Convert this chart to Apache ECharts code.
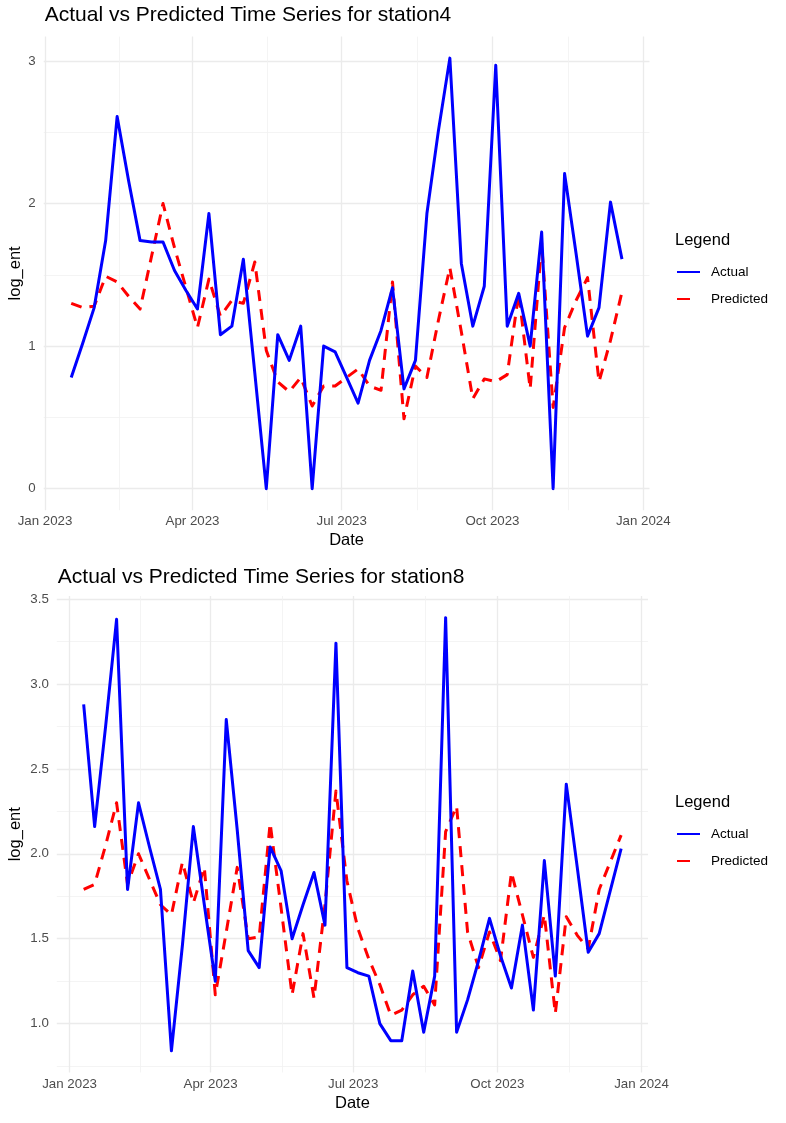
<!DOCTYPE html>
<html>
<head>
<meta charset="utf-8">
<script src="https://cdn.jsdelivr.net/npm/echarts@6/dist/echarts.min.js"></script>
<style>
html, body { margin: 0; padding: 0; background: #fff; }
#main { width: 786px; height: 1123px; }
</style>
</head>
<body>
<div id="main"></div>
<script>
// weekly observation dates (station8 has all of them, station4 starts one week later)
const dates = [
  '2023-01-10','2023-01-17','2023-01-24','2023-01-31','2023-02-07','2023-02-14','2023-02-21','2023-02-28',
  '2023-03-07','2023-03-14','2023-03-21','2023-03-28','2023-04-04','2023-04-11','2023-04-18','2023-04-25',
  '2023-05-02','2023-05-09','2023-05-16','2023-05-23','2023-05-30','2023-06-06','2023-06-13','2023-06-20',
  '2023-06-27','2023-07-04','2023-07-11','2023-07-18','2023-07-25','2023-08-01','2023-08-08','2023-08-15',
  '2023-08-22','2023-08-29','2023-09-05','2023-09-12','2023-09-19','2023-09-26','2023-10-03','2023-10-10',
  '2023-10-17','2023-10-24','2023-10-31','2023-11-07','2023-11-14','2023-11-21','2023-11-28','2023-12-05',
  '2023-12-12','2023-12-19'
];
const dates4 = dates.slice(1);

const actual4 = [0.78,1.02,1.27,1.74,2.61,2.16,1.74,1.73,1.73,1.53,1.39,1.26,1.93,1.08,1.14,1.61,0.81,0,1.08,0.90,
  1.14,0,1.00,0.96,0.78,0.60,0.90,1.11,1.41,0.70,0.90,1.93,2.51,3.02,1.58,1.14,1.42,2.97,1.14,1.37,
  1.00,1.80,0,2.21,1.65,1.07,1.27,2.01,1.61];
const predicted4 = [1.30,1.27,1.28,1.49,1.45,1.35,1.26,1.63,2.00,1.69,1.41,1.13,1.47,1.21,1.32,1.30,1.59,0.97,0.75,0.68,
  0.78,0.58,0.72,0.72,0.78,0.84,0.72,0.69,1.45,0.49,0.86,0.78,1.18,1.55,1.10,0.63,0.77,0.75,0.80,1.37,
  0.70,1.72,0.57,1.13,1.32,1.48,0.75,1.04,1.38];

const actual8 = [2.88,2.16,2.75,3.38,1.79,2.30,2.04,1.79,0.84,1.46,2.16,1.70,1.25,2.79,2.14,1.43,1.33,2.04,1.90,1.50,
  1.70,1.89,1.58,3.24,1.33,1.30,1.28,1.00,0.90,0.90,1.31,0.95,1.28,3.39,0.95,1.14,1.37,1.62,1.40,1.21,
  1.58,1.08,1.96,1.28,2.41,1.92,1.42,1.53,1.78,2.03];
const predicted8 = [1.79,1.82,2.05,2.30,1.82,2.00,1.85,1.70,1.64,1.95,1.71,1.92,1.17,1.54,1.92,1.50,1.51,2.18,1.68,1.17,
  1.53,1.15,1.70,2.37,1.84,1.56,1.38,1.23,1.05,1.08,1.17,1.22,1.11,2.13,2.28,1.54,1.33,1.54,1.37,1.89,
  1.64,1.39,1.64,1.06,1.63,1.52,1.44,1.79,1.95,2.11];

const xBreaks = ['2023-01-01','2023-04-01','2023-07-01','2023-10-01','2024-01-01'];
const yBreaks4 = [0, 1, 2, 3];
const yBreaks8 = [1.0, 1.5, 2.0, 2.5, 3.0, 3.5];

const FONT = 'Liberation Sans, Arial, sans-serif';
const MONTHS = ['Jan','Feb','Mar','Apr','May','Jun','Jul','Aug','Sep','Oct','Nov','Dec'];
const ts = s => Date.parse(s + 'T00:00:00Z');

function minorOf(breaks) {
  const out = [];
  const step = breaks[1] - breaks[0];
  out.push(breaks[0] - step / 2);
  for (let i = 0; i < breaks.length - 1; i++) out.push((breaks[i] + breaks[i + 1]) / 2);
  out.push(breaks[breaks.length - 1] + step / 2);
  return out;
}

function panel(i, p) {
  const xs = p.dates.map(ts);
  const xr = xs[xs.length - 1] - xs[0];
  const xMin = xs[0] - 0.05 * xr, xMax = xs[xs.length - 1] + 0.05 * xr;
  const all = p.actual.concat(p.predicted);
  const lo = Math.min(...all), hi = Math.max(...all);
  const yMin = lo - 0.05 * (hi - lo), yMax = hi + 0.05 * (hi - lo);
  const xMajor = xBreaks.map(ts);
  const xMinor = [];
  for (let k = 0; k < xMajor.length - 1; k++) xMinor.push((xMajor[k] + xMajor[k + 1]) / 2);
  const yMinor = minorOf(p.yBreaks).filter(v => v > yMin && v < yMax);

  const grid = { left: p.left, top: p.top, width: p.width, height: p.height, outerBoundsMode: 'none' };
  const gridLine = { show: true, lineStyle: { color: '#EBEBEB', width: 1.3 } };
  const minorLine = { show: true, lineStyle: { color: '#F1F1F1', width: 0.8 } };
  const xAxes = [
    {
      type: 'value', gridIndex: i, min: xMin, max: xMax, scale: true,
      axisLine: { show: false },
      axisTick: { show: false, customValues: xMajor },
      axisLabel: {
        customValues: xMajor, color: '#4D4D4D', fontSize: 13.3, fontFamily: FONT, margin: 5,
        formatter: v => { const d = new Date(v); return MONTHS[d.getUTCMonth()] + ' ' + d.getUTCFullYear(); }
      },
      splitLine: gridLine,
      name: 'Date', nameLocation: 'middle', nameGap: 22, nameMoveOverlap: false,
      nameTextStyle: { color: '#000', fontSize: 16.5, fontFamily: FONT }
    },
    {
      type: 'value', gridIndex: i, min: xMin, max: xMax, scale: true, position: 'top',
      axisLine: { show: false },
      axisTick: { show: false, customValues: xMinor },
      axisLabel: { show: false },
      splitLine: minorLine
    }
  ];
  const yAxes = [
    {
      type: 'value', gridIndex: i, min: yMin, max: yMax,
      axisLine: { show: false },
      axisTick: { show: false, customValues: p.yBreaks },
      axisLabel: {
        customValues: p.yBreaks, color: '#4D4D4D', fontSize: 13.3, fontFamily: FONT, margin: 8,
        formatter: v => v.toFixed(p.digits)
      },
      splitLine: gridLine,
      name: 'log_ent', nameLocation: 'middle', nameGap: p.nameGap, nameRotate: 90, nameMoveOverlap: false,
      nameTextStyle: { color: '#000', fontSize: 16.5, fontFamily: FONT }
    },
    {
      type: 'value', gridIndex: i, min: yMin, max: yMax, position: 'right',
      axisLine: { show: false },
      axisTick: { show: false, customValues: yMinor },
      axisLabel: { show: false },
      splitLine: minorLine
    }
  ];
  const series = [
    {
      name: 'Actual', type: 'line', xAxisIndex: 2 * i, yAxisIndex: 2 * i,
      data: xs.map((x, k) => [x, p.actual[k]]),
      symbol: 'none', color: '#0000FF',
      lineStyle: { color: '#0000FF', width: 3, join: 'round' }, z: 3
    },
    {
      name: 'Predicted', type: 'line', xAxisIndex: 2 * i, yAxisIndex: 2 * i,
      data: xs.map((x, k) => [x, p.predicted[k]]),
      symbol: 'none', color: '#FF0000',
      lineStyle: { color: '#FF0000', width: 3, type: [11, 8], join: 'round' }, z: 2
    }
  ];
  const titles = [
    { text: p.title, left: p.left + 1, top: p.titleTop, padding: 0,
      textStyle: { color: '#000', fontSize: 21, fontWeight: 'normal', fontFamily: FONT } },
    { text: 'Legend', left: 675, top: p.legendTop - 33, padding: 0,
      textStyle: { color: '#000', fontSize: 16.5, fontWeight: 'normal', fontFamily: FONT } }
  ];
  const legend = {
    data: ['Actual', { name: 'Predicted', lineStyle: { type: [13, 20] } }],
    orient: 'vertical', left: 676, top: p.legendTop, padding: 0,
    itemWidth: 23, itemHeight: 14, itemGap: 13, selectedMode: false,
    itemStyle: { opacity: 0, color: 'transparent', borderWidth: 0 },
    textStyle: { color: '#000', fontSize: 13.5, fontFamily: FONT, padding: [0, 0, 0, 6] }
  };
  return { grid, xAxes, yAxes, series, titles, legend };
}

const p4 = panel(0, {
  dates: dates4, actual: actual4, predicted: predicted4, yBreaks: yBreaks4, digits: 0,
  left: 43.7, top: 36.6, width: 605.8, height: 473.6, nameGap: 20,
  title: 'Actual vs Predicted Time Series for station4', titleTop: 5, legendTop: 265
});
const p8 = panel(1, {
  dates: dates, actual: actual8, predicted: predicted8, yBreaks: yBreaks8, digits: 1,
  left: 56.8, top: 596, width: 591.2, height: 476.5, nameGap: 33,
  title: 'Actual vs Predicted Time Series for station8', titleTop: 567, legendTop: 827
});

const chart = echarts.init(document.getElementById('main'), null, { renderer: 'canvas' });
chart.setOption({
  animation: false,
  backgroundColor: '#fff',
  title: p4.titles.concat(p8.titles),
  legend: [p4.legend, p8.legend],
  grid: [p4.grid, p8.grid],
  xAxis: p4.xAxes.concat(p8.xAxes),
  yAxis: p4.yAxes.concat(p8.yAxes),
  series: p4.series.concat(p8.series)
});
</script>
</body>
</html>
